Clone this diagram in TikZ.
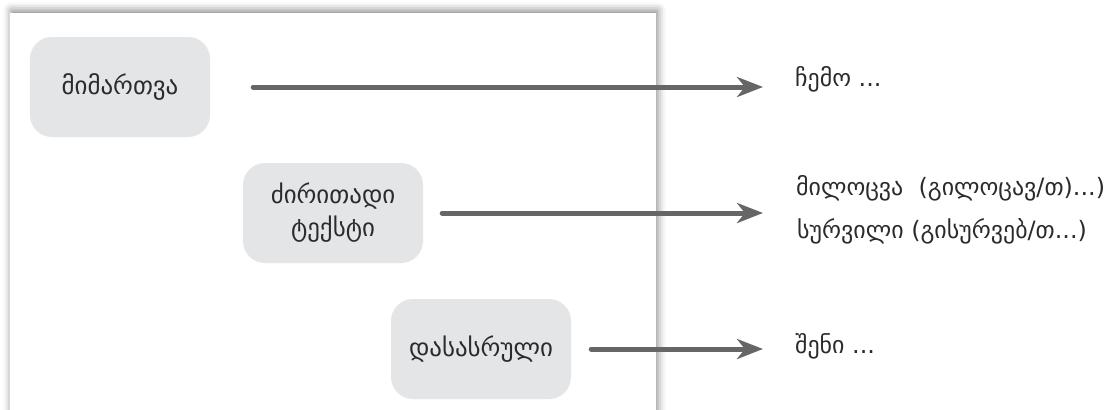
\documentclass[tikz,border=0pt]{standalone}
\usepackage{fontspec}
\setmainfont{DejaVu Sans}
\usetikzlibrary{arrows.meta,shadows.blur}
\definecolor{boxgray}{HTML}{E4E5E7}
\definecolor{arrowgray}{HTML}{666666}
\definecolor{inkgray}{HTML}{2B2B2B}

\begin{document}
\begin{tikzpicture}[x=1bp,y=-1bp,>={Stealth[length=26bp,width=20bp,inset=8bp]},line cap=round,
  part/.style={fill=boxgray,rounded corners=22bp,minimum width=180bp,minimum height=100bp,
    text=inkgray,font=\fontsize{25}{33}\selectfont,align=center},
  note/.style={anchor=base west,text=inkgray,font=\fontsize{24}{24}\selectfont,inner sep=0pt},
  flow/.style={->,arrowgray,line width=5bp}]
\useasboundingbox (0,0) rectangle (1114,409);
% sheet behind the parts
\path[fill=white,blur shadow={shadow xshift=1.5bp,shadow yshift=2.5bp,shadow blur radius=8bp,shadow opacity=50}]
  (10,13) rectangle (656,440);
\node[part] (open) at (120,87) {მიმართვა};
\node[part] (body) at (333,213) {ძირითადი\\ტექსტი};
\node[part] (close) at (481,349) {დასასრული};
\coordinate (tip) at (763,0);
\node[note] (greet) at (795,86) {ჩემო ...};
\node[note] (wish1) at (796,195) {მილოცვა\ \ (გილოცავ/თ)...)};
\node[note] (wish2) at (797,238) {სურვილი (გისურვებ/თ...)};
\node[note] (sign) at (795,353) {შენი ...};
\draw[flow] ([xshift=43bp]open.east) -- (open.east -| tip);
\draw[flow] ([xshift=19bp]body.east) -- (body.east -| tip);
\draw[flow] ([xshift=20bp]close.east) -- (close.east -| tip);
\end{tikzpicture}
\end{document}
